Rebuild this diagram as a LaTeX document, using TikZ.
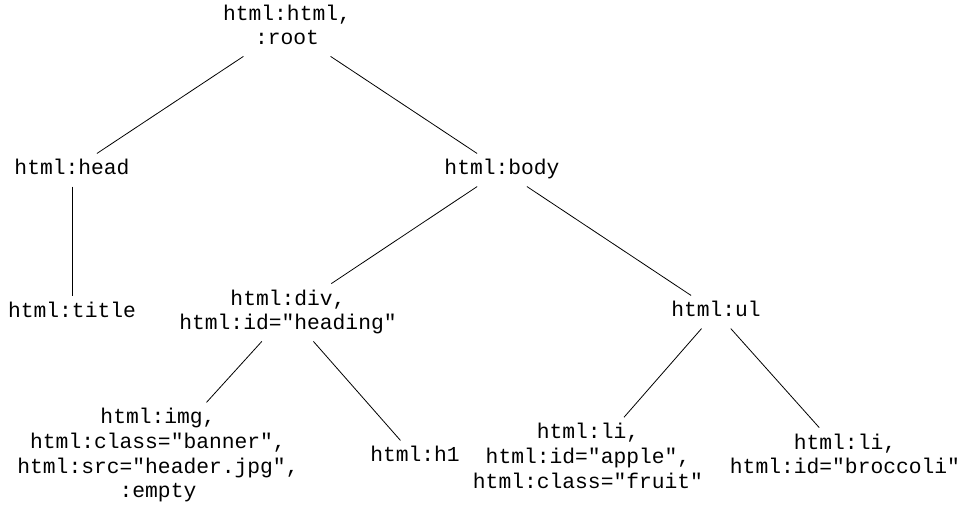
\documentclass[tikz,border=0pt]{standalone}
\usepackage{fontspec}
\setmonofont{Liberation Mono}
\begin{document}
\begin{tikzpicture}[x=1pt,y=-1pt]
\tikzset{
  treenode/.style={align=center, inner sep=4pt, font=\ttfamily\fontsize{21.3}{24.7}\selectfont},
  treeedge/.style={draw=black, line width=0.8pt}
}
\useasboundingbox (0,0) rectangle (962,508);
\node[treenode] (root)  at (287,27.5)  {\strut html:html,\\\strut :root};
\node[treenode] (head)  at (72,170)    {\strut html:head};
\node[treenode] (body)  at (502,170)   {\strut html:body};
\node[treenode] (title) at (72,312.5)  {\strut html:title};
\node[treenode] (div)   at (288,312.5) {\strut html:div,\\\strut html:id="heading"};
\node[treenode] (ul)    at (716,312)   {\strut html:ul};
\node[treenode] (img)   at (158,456)   {\strut html:img,\\\strut html:class="banner",\\\strut html:src="header.jpg",\\\strut :empty};
\node[treenode] (h1)    at (415,457)   {\strut html:h1};
\node[treenode] (li1)   at (588,458.5) {\strut html:li,\\\strut html:id="apple",\\\strut html:class="fruit"};
\node[treenode] (li2)   at (845,456.5) {\strut html:li,\\\strut html:id="broccoli"};
\draw[treeedge] (root) -- (head);
\draw[treeedge] (root) -- (body);
\draw[treeedge] (head) -- (title);
\draw[treeedge] (body) -- (div);
\draw[treeedge] (body) -- (ul);
\draw[treeedge] (div) -- (img);
\draw[treeedge] (div) -- (h1);
\draw[treeedge] (ul) -- (li1);
\draw[treeedge] (ul) -- (li2);
\end{tikzpicture}
\end{document}
